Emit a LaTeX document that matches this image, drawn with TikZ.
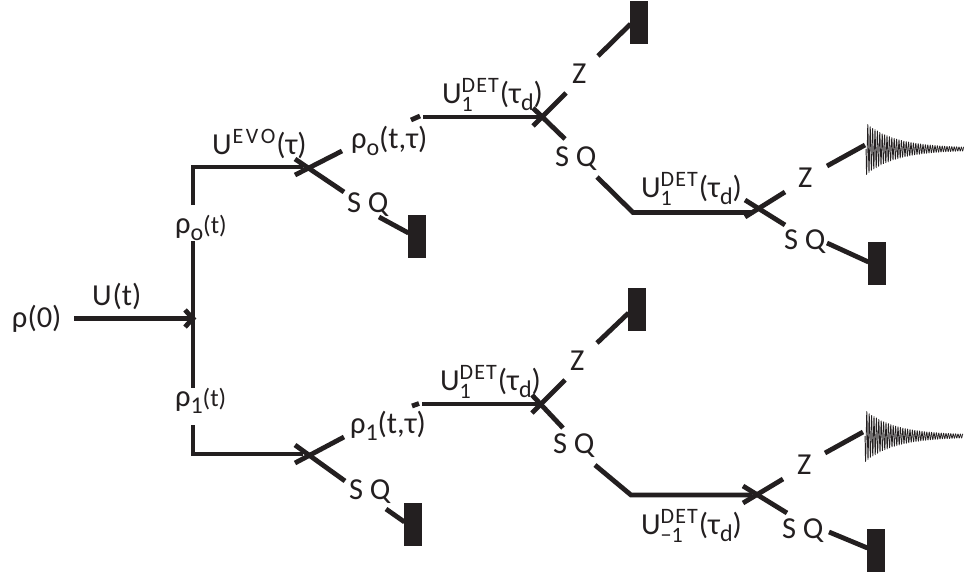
\documentclass[tikz,border=0pt]{standalone}
\usepackage{fontspec}
\setmainfont{Carlito}
\definecolor{ink}{HTML}{231F20}
\newcommand{\SpT}[1]{{\fontsize{22}{22}\selectfont #1}}
\newcommand{\DET}{D\kern1.2pt E\kern1.2pt T\kern1pt}
\newcommand{\SupSub}[2]{\rlap{\raisebox{10.5pt}{\SpT{\DET}}}\makebox[0pt][l]{\raisebox{-8pt}{\SpT{#2}}}\phantom{\SpT{\DET}}}
\newcommand{\Rsub}[1]{\raisebox{-7pt}{\fontsize{24}{24}\selectfont #1}}
\tikzset{
  wire/.style={draw=ink,line width=4.8pt,line cap=butt,line join=miter},
  lab/.style={anchor=base west,inner sep=0pt,outer sep=0pt,text=ink,font=\fontsize{30.5}{30.5}\selectfont},
  detector/.style={fill=ink,draw=none,minimum width=18pt,minimum height=43pt,inner sep=0pt,outer sep=0pt,rectangle},
  ringdown/.style={draw=ink,line width=0.7pt,line join=round}
}
\begin{document}
\begin{tikzpicture}[x=1pt,y=-1pt]
\useasboundingbox (0,0) rectangle (964,576);
% junctions / corners
\foreach \n/\x/\y in {
 s0/74/318.5, a0/193/318.5, t0a/185/310, t0b/185/327,
 c1/193/167, v1a/193/205, v1b/193/241, c2/193/454, v2a/193/388, v2b/193/425,
 j1/303/167, j1a/295/175, j1b/295/159, j1u/342/151, j1d/344/192, e1a/379/217, e1b/408.5/233,
 d1a/411/120, d1b/420/116,
 h1/423/117, j2/542/117, j2a/533/126, j2b/533/108, j2u/566/93, j2d/565/139,
 z2a/598/56, z2b/630.5/24, q2a/597/177, c3/633/212.5,
 j3/753/212.5, j3b/745/217, j3a/745/200, j3u/785/192, j3d/785/225, z3a/827/166, z3b/865/145, q3a/827/243, q3b/868.5/262,
 j4/303/454, j4a/295/463, j4b/295/445, j4u/344/437, j4d/345/481, e4a/386/509, e4b/404.5/522,
 d4a/412/406, d4b/419/403.5,
 h4/422/404, j5/541/404, j5a/532/413, j5b/532/395, j5u/565/380, j5d/563/428,
 z5a/597/343, z5b/628.5/313, q5a/595/465, c6/631/495,
 j6/752/495, j6a/743/503, j6b/743/486, j6u/783/479, j6d/787/513, z6a/825/453, z6b/863/432, q6a/829/532, q6b/867.5/548
}{\coordinate (\n) at (\x,\y);}
% detectors
\node[detector] (det1) at (417,236.5) {};
\node[detector] (det2) at (639,22) {};
\node[detector] (det3) at (877,263.5) {};
\node[detector] (det4) at (637,309.5) {};
\node[detector] (det5) at (413,524.5) {};
\node[detector] (det6) at (876,550.5) {};
% connectors
\draw[wire] (s0) -- (a0);
\draw[wire] (t0a) -- (a0) -- (t0b);
\draw[wire] (v1a) -- (c1) -- (j1);
\draw[wire] (v1b) -- (v2a);
\draw[wire] (v2b) -- (c2) -- (j4);
\draw[wire] (j1a) -- (j1u);
\draw[wire] (j1b) -- (j1d);
\draw[wire] (e1a) -- (e1b);
\draw[wire] (d1a) -- (d1b);
\draw[wire] (h1) -- (j2);
\draw[wire] (j2a) -- (j2u);
\draw[wire] (j2b) -- (j2d);
\draw[wire] (z2a) -- (z2b);
\draw[wire] (q2a) -- (c3) -- (j3);
\draw[wire] (j3b) -- (j3u);
\draw[wire] (j3a) -- (j3d);
\draw[wire] (z3a) -- (z3b);
\draw[wire] (q3a) -- (q3b);
\draw[wire] (j4a) -- (j4u);
\draw[wire] (j4b) -- (j4d);
\draw[wire] (e4a) -- (e4b);
\draw[wire] (d4a) -- (d4b);
\draw[wire] (h4) -- (j5);
\draw[wire] (j5a) -- (j5u);
\draw[wire] (j5b) -- (j5d);
\draw[wire] (z5a) -- (z5b);
\draw[wire] (q5a) -- (c6) -- (j6);
\draw[wire] (j6a) -- (j6u);
\draw[wire] (j6b) -- (j6d);
\draw[wire] (z6a) -- (z6b);
\draw[wire] (q6a) -- (q6b);
% ring-down signals
\draw[ringdown] plot[domain=0:98,samples=500,smooth] (866+\x,{149+(1+25*exp(-\x/30))*sin(\x*150)});
\draw[ringdown] plot[domain=0:98,samples=500,smooth] (865+\x,{436+(1+25*exp(-\x/30))*sin(\x*150)});
% labels
\node[lab] (l1) at (12,327) {ρ(0)};
\node[lab] (l2) at (92,305) {U\kern1pt(t)};
\node[lab] (l3) at (175,233) {ρ\Rsub{o}\fontsize{25}{25}\selectfont(t)};
\node[lab] (l4) at (175,406) {ρ\Rsub{1}\fontsize{25}{25}\selectfont(t)};
\node[lab] (l5) at (212,154) {U\kern1pt\raisebox{11pt}{\SpT{E\kern2.5pt V\kern2.5pt O}}\kern1pt(τ)};
\node[lab] (l6) at (351,148) {ρ\Rsub{o}(t,τ)};
\node[lab] (l7) at (350,433) {ρ\Rsub{1}(t,τ)};
\node[lab] (l8) at (442,103) {U\SupSub{DET}{1}(τ\Rsub{d})};
\node[lab] (l9) at (641,197) {U\SupSub{DET}{1}(τ\Rsub{d})};
\node[lab] (l10) at (440,390) {U\SupSub{DET}{1}(τ\Rsub{d})};
\node[lab] (l11) at (641,534) {U\SupSub{DET}{−1}(τ\Rsub{d})};
\node[lab] (z2) at (572,83) {Z};
\node[lab] (z3) at (798,187) {Z};
\node[lab] (z5) at (570,370) {Z};
\node[lab] (z6) at (797,474) {Z};
\node[lab] (q1) at (347,212) {S Q};
\node[lab] (q2) at (555,166) {S Q};
\node[lab] (q3) at (784,249) {S Q};
\node[lab] (q4) at (349,499) {S Q};
\node[lab] (q5) at (553,453) {S Q};
\node[lab] (q6) at (782,538) {S Q};
\end{tikzpicture}
\end{document}
